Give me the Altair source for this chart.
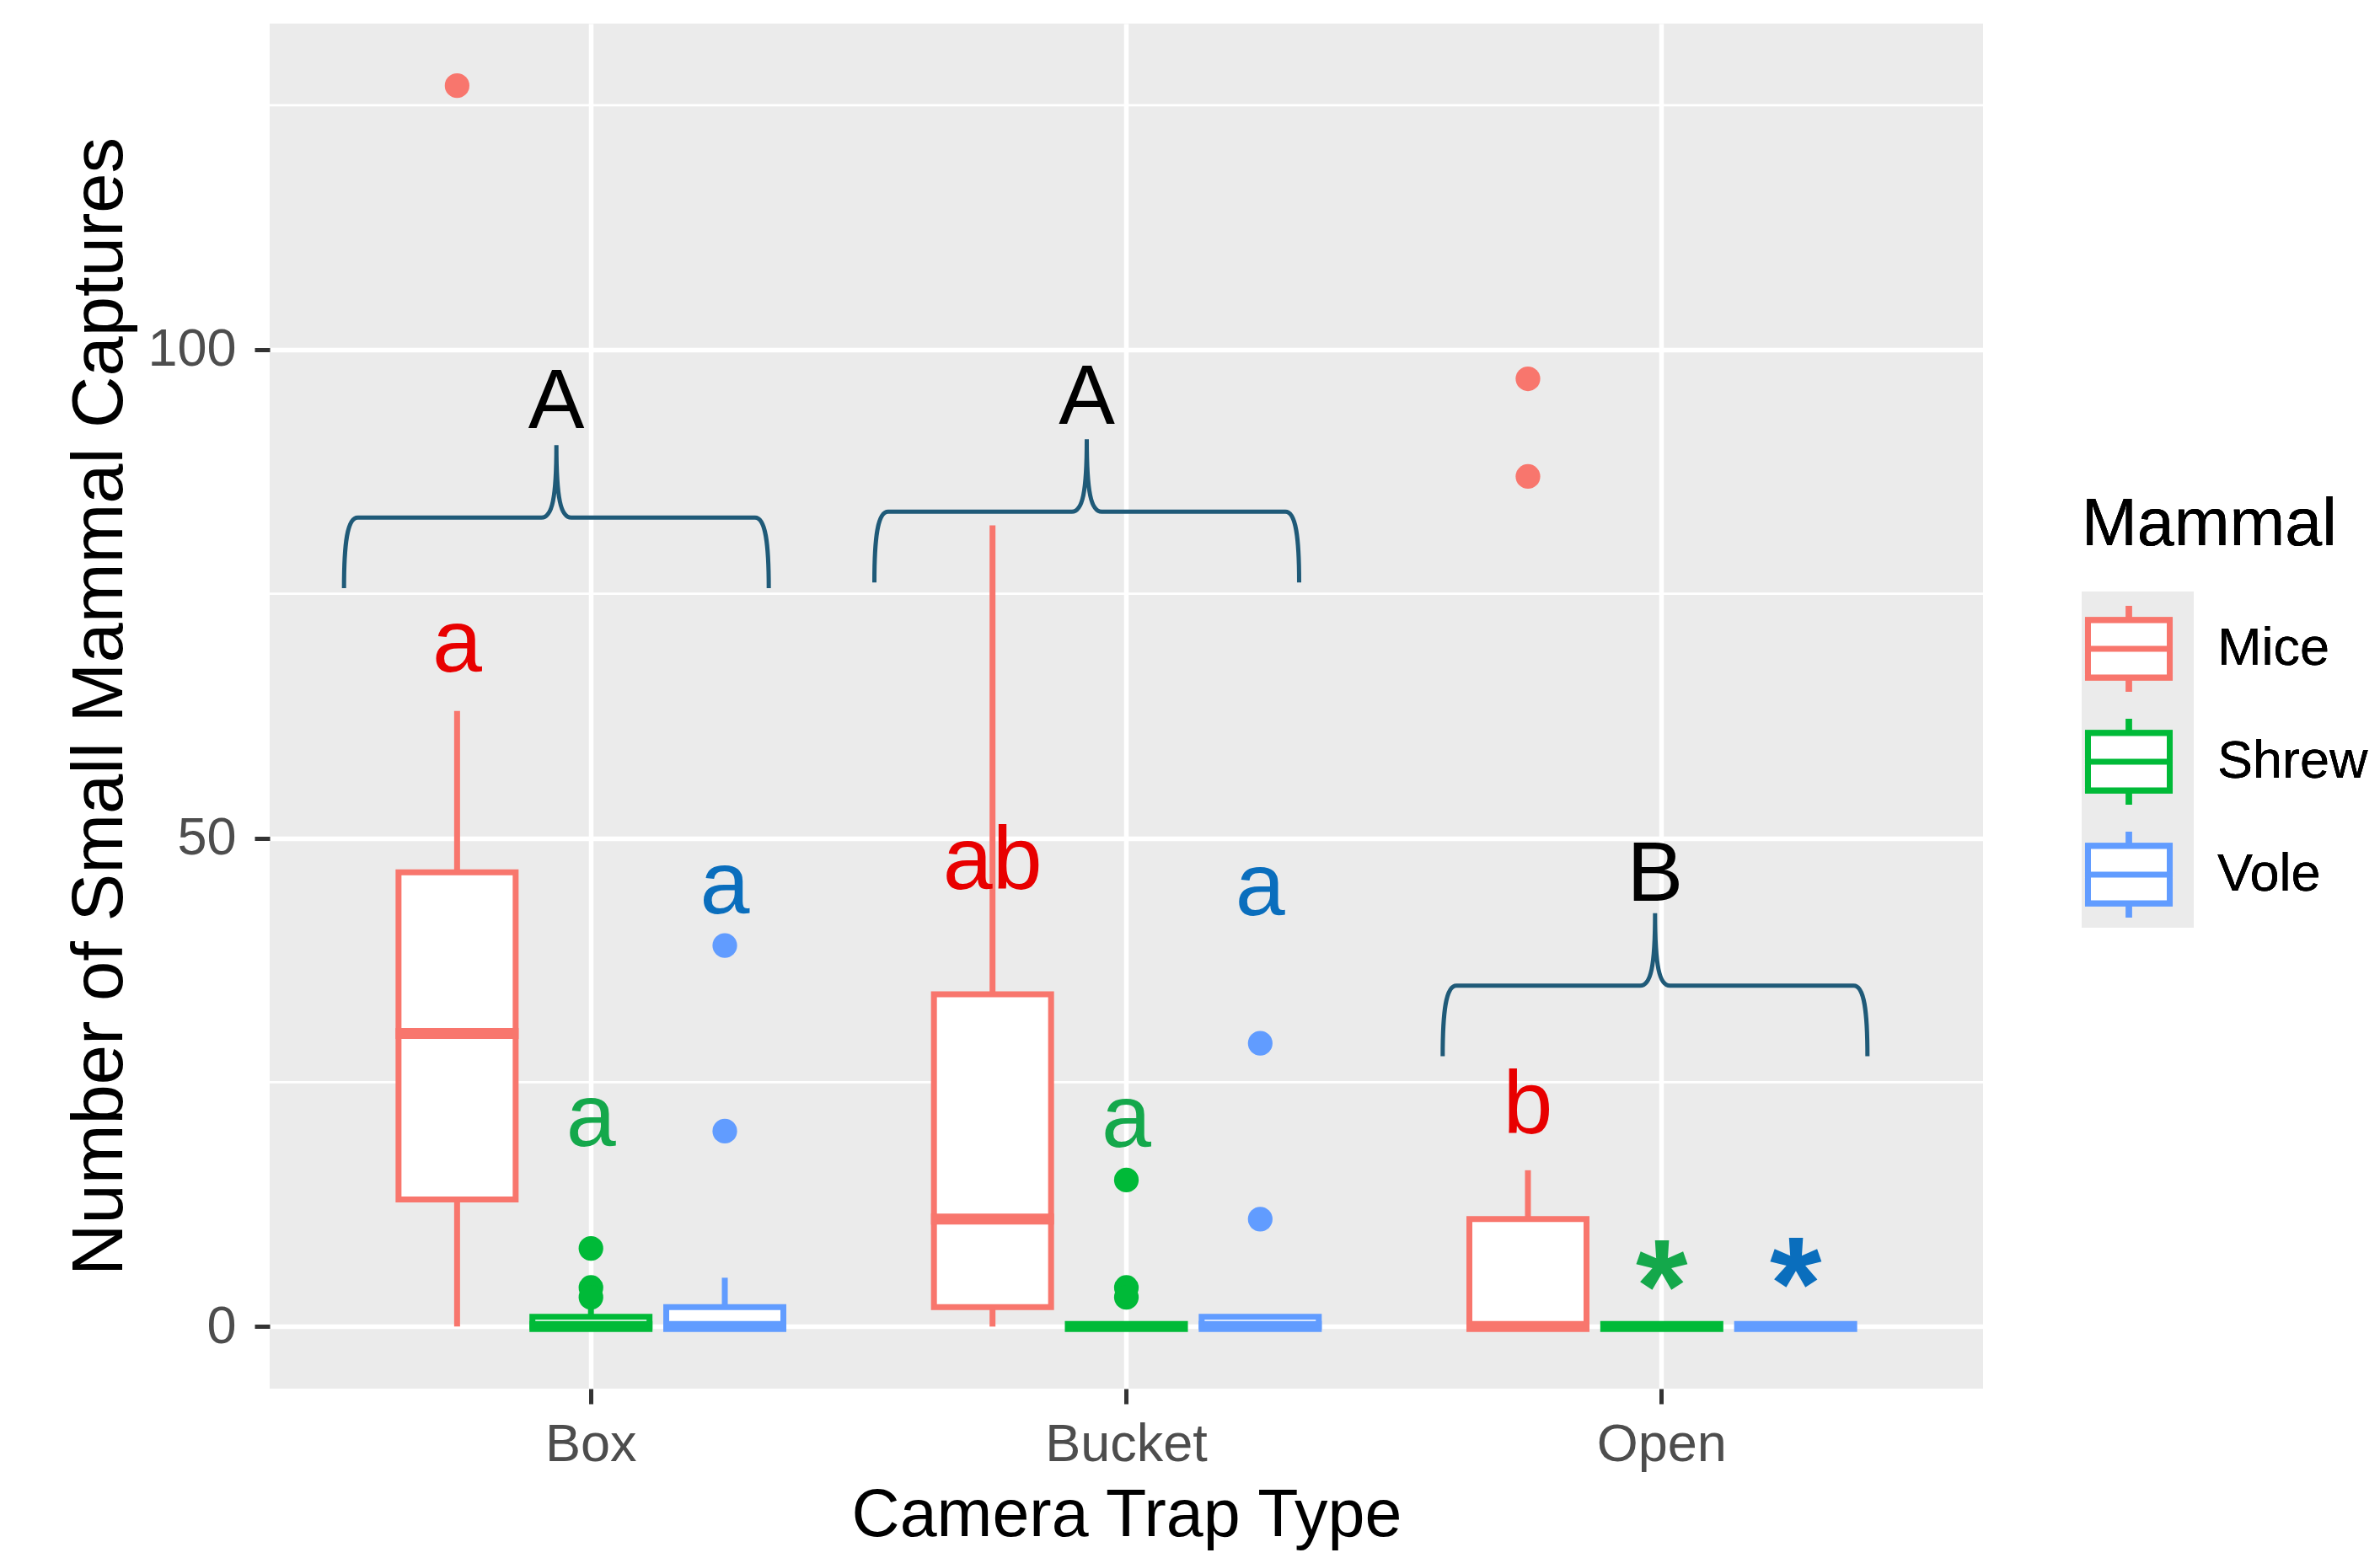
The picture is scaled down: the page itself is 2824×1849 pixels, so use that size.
import altair as alt
import pandas as pd

# ---------------- data ----------------
traps = ["Box", "Bucket", "Open"]
mammals = ["Mice", "Shrew", "Vole"]

# box-plot summaries, one row per trap x mammal
box_trap = ["Box", "Box", "Box", "Bucket", "Bucket", "Bucket", "Open", "Open", "Open"]
box_mammal = ["Mice", "Shrew", "Vole"] * 3
q1 = [13, 0, 0, 2, 0, 0, 0, 0, 0]
median = [30, 0, 0, 11, 0, 0, 0, 0, 0]
q3 = [46.5, 1, 2, 34, 0, 1, 11, 0, 0]
whisk_lo = [0, 0, 0, 0, 0, 0, 0, 0, 0]
whisk_hi = [63, 2, 5, 82, 0, 1, 16, 0, 0]

# outliers
out_trap = ["Box", "Box", "Box", "Box", "Box", "Box",
            "Bucket", "Bucket", "Bucket", "Bucket", "Bucket", "Open", "Open"]
out_mammal = ["Mice", "Shrew", "Shrew", "Shrew", "Vole", "Vole",
              "Shrew", "Shrew", "Shrew", "Vole", "Vole", "Mice", "Mice"]
out_value = [127, 8, 4, 3, 39, 20, 15, 4, 3, 29, 11, 97, 87]

# significance letters per box
let_trap = ["Box", "Box", "Box", "Bucket", "Bucket", "Bucket", "Open"]
let_mammal = ["Mice", "Shrew", "Vole", "Mice", "Shrew", "Vole", "Mice"]
let_text = ["a", "a", "a", "ab", "a", "a", "b"]
let_y = [67.0, 18.5, 42.3, 44.8, 18.4, 42.1, 19.8]

# asterisks (centre of the glyph)
ast_trap = ["Open", "Open"]
ast_mammal = ["Shrew", "Vole"]
ast_y = [6.1, 6.3]

# group letters and braces
grp_trap = ["Box", "Bucket", "Open"]
grp_text = ["A", "A", "B"]
grp_text_y = [92.0, 92.4, 43.6]
brace_y = [82.8, 83.4, 34.9]

minor_grid = [25, 75, 125]
legend_keys = ["k1", "k2", "k3"]

# ---------------- styling ----------------
FONT = "Liberation Sans"
BOX_COLORS = ["#F8766D", "#00BA38", "#619CFF"]
TEXT_COLORS = ["#E80000", "#14A84B", "#0A6EBD"]
BRACE_COLOR = "#1F5A78"
PANEL = "#EBEBEB"

box_df = pd.DataFrame(dict(trap=box_trap, mammal=box_mammal, q1=q1, median=median,
                           q3=q3, lo=whisk_lo, hi=whisk_hi))
out_df = pd.DataFrame(dict(trap=out_trap, mammal=out_mammal, value=out_value))
let_df = pd.DataFrame(dict(trap=let_trap, mammal=let_mammal, text=let_text, y=let_y))
ast_df = pd.DataFrame(dict(trap=ast_trap, mammal=ast_mammal, text=["*", "*"], y=ast_y))
grp_df = pd.DataFrame(dict(trap=grp_trap, text=grp_text, ty=grp_text_y, by=brace_y))
minor_df = pd.DataFrame(dict(v=minor_grid))

x_enc = alt.X(
    "trap:N",
    sort=traps,
    scale=alt.Scale(domain=traps, paddingInner=0.25, paddingOuter=0.225),
    axis=alt.Axis(
        title="Camera Trap Type", bandPosition=0.5, labelAngle=0, labelLimit=0,
        labelFontSize=63, labelColor="#4D4D4D", labelPadding=17,
        tickSize=18, tickWidth=5, tickColor="#333333", domain=False,
        grid=True, gridColor="white", gridWidth=5.5,
        titleFontSize=79, titleColor="black", titleFontWeight="normal", titlePadding=14,
    ),
)
xo_enc = alt.XOffset("mammal:N", sort=mammals,
                     scale=alt.Scale(domain=mammals, paddingInner=0.125, paddingOuter=0.0625))
y_scale = alt.Scale(domain=[-6.35, 133.35], nice=False, zero=False)
y_axis = alt.Axis(
    title="Number of Small Mammal Captures", values=[0, 50, 100],
    labelFontSize=63, labelColor="#4D4D4D", labelPadding=22,
    tickSize=18, tickWidth=5, tickColor="#333333", domain=False,
    grid=True, gridColor="white", gridWidth=5.5, titleLimit=0,
    titleFontSize=85, titleColor="black", titleFontWeight="normal", titlePadding=12,
)

stroke_scale = alt.Scale(domain=mammals, range=BOX_COLORS)

# legend key glyph (box with median and whiskers); bounds kept to +-1
BOX_GLYPH = ("M-0.924,-0.648H0.924V0.648H-0.924Z M-0.924,0H0.924 "
             "M0,-0.648V-0.971 M0,0.648V0.971 M-1,-1 M1,1")

LEG_X, LEG_Y = 2150, 557
stroke_legend = alt.Legend(
    title="Mammal", orient="none", legendX=LEG_X, legendY=LEG_Y,
    titleFontSize=79, titleColor="black", titleFontWeight="normal", titlePadding=50,
    titleLimit=0, labelLimit=0,
    labelFontSize=63, labelColor="black", labelOffset=49,
    symbolType=BOX_GLYPH, symbolSize=11025, symbolStrokeWidth=7,
    symbolFillColor="white", symbolOpacity=1, rowPadding=0, padding=0,
)

base = alt.Chart(box_df)

# minor grid lines
minor = alt.Chart(minor_df).mark_rule(color="white", strokeWidth=2.7).encode(
    y=alt.Y("v:Q", scale=y_scale, axis=y_axis)
)

# grey key background for the legend (empty data; legend comes from scale domain)
legend_bg = base.transform_calculate(key="'k1'").transform_filter("false").mark_point(
    filled=True, shape="square", color=PANEL, opacity=1
).encode(
    x=x_enc,
    y=alt.Y("q1:Q", scale=y_scale),
    shape=alt.Shape("key:N", scale=alt.Scale(domain=legend_keys, range=["square"] * 3),
                    legend=alt.Legend(
                        title=None, orient="none", legendX=LEG_X, legendY=LEG_Y + 79 + 38,
                        labelExpr="''", labelFontSize=63, labelOffset=31,
                        symbolType="square", symbolSize=17689, symbolStrokeWidth=0,
                        symbolFillColor=PANEL, symbolStrokeColor=PANEL, symbolOpacity=1,
                        rowPadding=0, padding=0)),
)

whisk_up = base.mark_rule(strokeWidth=7).encode(
    x=x_enc, xOffset=xo_enc,
    y=alt.Y("q3:Q", scale=y_scale), y2="hi:Q",
    stroke=alt.Stroke("mammal:N", scale=stroke_scale, legend=stroke_legend),
)
whisk_dn = base.mark_rule(strokeWidth=7).encode(
    x=x_enc, xOffset=xo_enc,
    y=alt.Y("lo:Q", scale=y_scale), y2="q1:Q",
    stroke=alt.Stroke("mammal:N", scale=stroke_scale, legend=stroke_legend),
)
boxes = base.mark_bar(fill="white", strokeWidth=7, opacity=1).encode(
    x=x_enc, xOffset=xo_enc,
    y=alt.Y("q1:Q", scale=y_scale), y2="q3:Q",
    stroke=alt.Stroke("mammal:N", scale=stroke_scale, legend=stroke_legend),
)
medians = base.mark_tick(thickness=13, size=146, orient="horizontal", opacity=1).encode(
    x=x_enc, xOffset=xo_enc,
    y=alt.Y("median:Q", scale=y_scale),
    fill=alt.Fill("mammal:N", scale=stroke_scale, legend=None),
)
outliers = alt.Chart(out_df).mark_circle(size=855, opacity=1).encode(
    x=x_enc, xOffset=xo_enc,
    y=alt.Y("value:Q", scale=y_scale),
    fill=alt.Fill("mammal:N", scale=stroke_scale, legend=None),
)

text_color = alt.Color("mammal:N", scale=alt.Scale(domain=mammals, range=TEXT_COLORS), legend=None)
letters = alt.Chart(let_df).mark_text(fontSize=106, font=FONT, baseline="alphabetic",
                                      align="center").encode(
    x=x_enc, xOffset=xo_enc, y=alt.Y("y:Q", scale=y_scale), text="text:N", color=text_color,
)
asterisks = alt.Chart(ast_df).mark_text(fontSize=158, font=FONT, fontWeight="bold",
                                        baseline="alphabetic", align="center", dy=77).encode(
    x=x_enc, xOffset=xo_enc, y=alt.Y("y:Q", scale=y_scale), text="text:N", color=text_color,
)


def brace_path(off):
    """Curly brace glyph (tip up), unit half-width, shifted horizontally by `off` units."""
    def X(v):
        return f"{v + off:.4f}"
    return (f"M{X(-1)},0.333 C{X(-1)},0.12 {X(-0.985)},0 {X(-0.935)},0 L{X(-0.07)},0 "
            f"C{X(-0.02)},0 {X(0)},-0.09 {X(0)},-0.341 "
            f"C{X(0)},-0.09 {X(0.02)},0 {X(0.07)},0 L{X(0.935)},0 "
            f"C{X(0.985)},0 {X(1)},0.12 {X(1)},0.333")


BRACE_HALF = 252  # px
group_layers = []
for trap, shift in zip(grp_trap, [-41, -47, -8]):
    g = alt.Chart(grp_df).transform_filter(alt.datum.trap == trap)
    group_layers.append(
        g.mark_point(shape=brace_path(shift / BRACE_HALF), size=(2 * BRACE_HALF) ** 2,
                     filled=False, strokeWidth=5, color=BRACE_COLOR, opacity=1).encode(
            x=x_enc, y=alt.Y("by:Q", scale=y_scale))
    )
    group_layers.append(
        g.mark_text(fontSize=100, font=FONT, color="black", baseline="alphabetic",
                    align="center", dx=shift).encode(
            x=x_enc, y=alt.Y("ty:Q", scale=y_scale), text="text:N")
    )

chart = alt.layer(
    minor, legend_bg, whisk_up, whisk_dn, boxes, medians, outliers,
    letters, asterisks, *group_layers,
).resolve_scale(color="independent", fill="independent", stroke="independent", shape="independent").properties(
    width=2033, height=1620,
    autosize=alt.AutoSizeParams(type="none"),
    padding={"left": 312, "top": 20, "right": 460, "bottom": 193},
).configure(font=FONT).configure_view(fill=PANEL, stroke=None)

chart.save("out.html", embed_options={"renderer": "svg", "actions": False})
